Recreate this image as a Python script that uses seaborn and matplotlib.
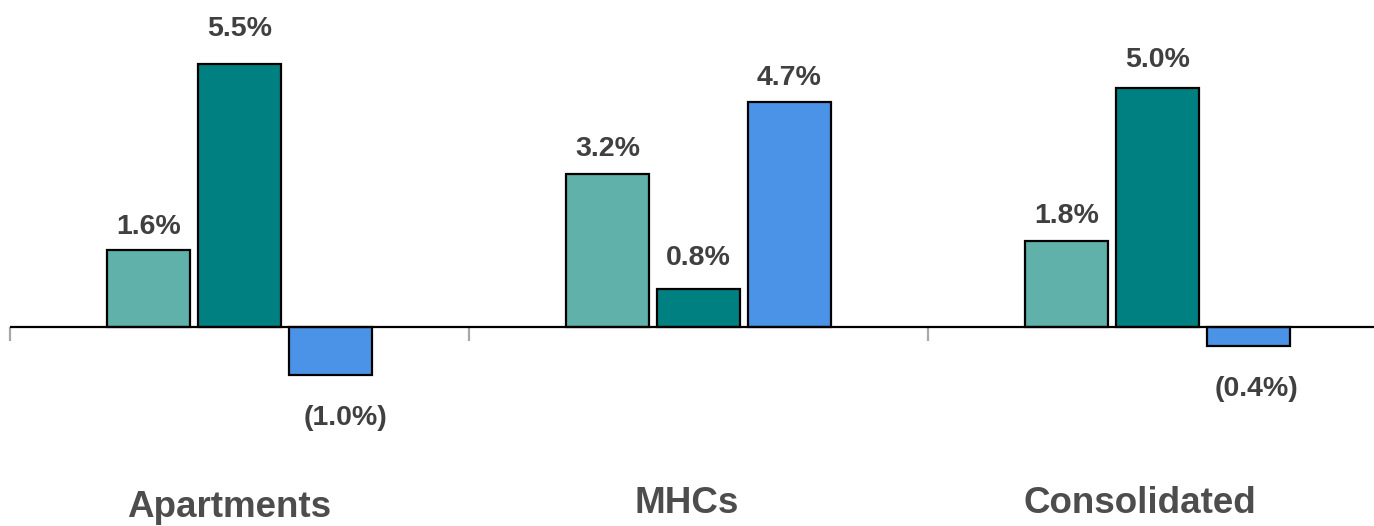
import matplotlib
matplotlib.use("Agg")
import matplotlib.pyplot as plt
import seaborn as sns
import pandas as pd

# Same-store growth by segment
segments = ["Apartments", "MHCs", "Consolidated"]
series = ["Revenues", "Expenses", "NOI"]
revenues = [1.6, 3.2, 1.8]
expenses = [5.5, 0.8, 5.0]
noi = [-1.0, 4.7, -0.4]

rows = []
for name, vals in zip(series, [revenues, expenses, noi]):
    for seg, v in zip(segments, vals):
        rows.append({"Segment": seg, "Series": name, "Growth": v})
df = pd.DataFrame(rows)

sns.set_theme(style="white")
plt.rcParams["font.family"] = ["Liberation Sans", "DejaVu Sans"]

palette = {"Revenues": "#5FB1AA", "Expenses": "#008080", "NOI": "#4B93E6"}

fig = plt.figure(figsize=(13.74, 5.26), dpi=100)
ax = fig.add_axes([0, 0, 1, 1])

sns.barplot(data=df, x="Segment", y="Growth", hue="Series", order=segments,
            hue_order=series, palette=palette, width=0.595, gap=0.09,
            edgecolor="black", linewidth=1.6, saturation=1, legend=False, ax=ax)

ax.set_xlim(-0.5218, 2.4717)
ax.set_ylim(-4.161, 6.838)
ax.axis("off")

# Baseline and category separators
ax.plot([-0.5, 2.4717], [0, 0], color="black", lw=1.6, zorder=5, solid_capstyle="butt")
ax.vlines([-0.5, 0.5, 1.5], -0.29, 0, color="#A8A8A8", lw=1.6, zorder=4)

# Value labels
label_gap = {  # pixel gap between bar end and label
    "Revenues": [16, 18, 18],
    "Expenses": [28, 24, 21],
    "NOI": [30, 17, 30],
}
neg_shift = [15, 0, 8]
for name, cont in zip(series, ax.containers):
    vals = df[df["Series"] == name]["Growth"].tolist()
    for i, (bar, v) in enumerate(zip(cont.patches, vals)):
        xc = bar.get_x() + bar.get_width() / 2
        gap = label_gap[name][i]
        if v >= 0:
            txt = f"{v:.1f}%"
            ax.annotate(txt, (xc, v), xytext=(0, gap), textcoords="offset pixels",
                        ha="center", va="baseline", fontsize=20.5,
                        fontweight="bold", color="#404040")
        else:
            txt = f"({abs(v):.1f}%)"
            ax.annotate(txt, (xc, v), xytext=(neg_shift[i], -gap),
                        textcoords="offset pixels", ha="center", va="top",
                        fontsize=20.5, fontweight="bold", color="#404040")

# Category labels
cat_shift = [-10, -12, -18]
cat_drop = [4, 0, 0]
for i, seg in enumerate(segments):
    ax.annotate(seg, (i, -4.161), xytext=(cat_shift[i], 13 - cat_drop[i]),
                textcoords="offset pixels", ha="center", va="baseline",
                fontsize=26.5, fontweight="bold", color="#4D4D4D")

fig.savefig("out.png", dpi=100)
